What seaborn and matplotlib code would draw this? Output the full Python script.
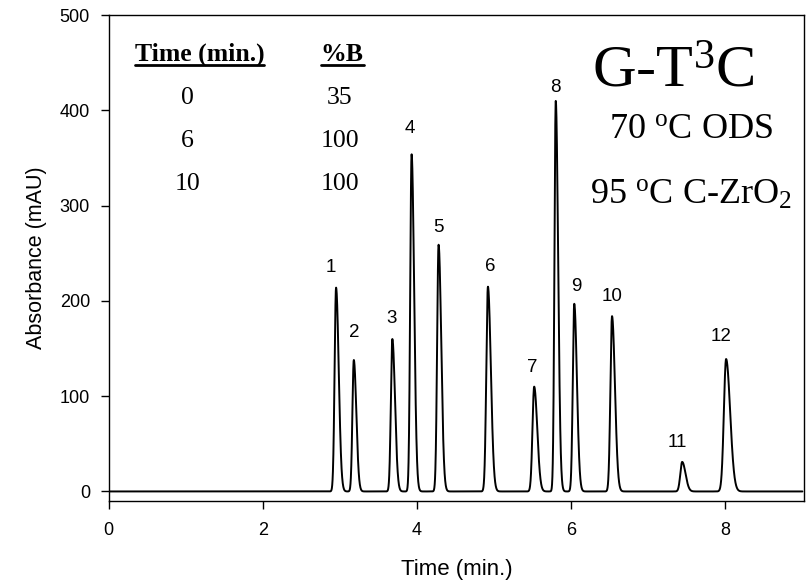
import numpy as np
import pandas as pd
import matplotlib
matplotlib.use("Agg")
import matplotlib.pyplot as plt
import seaborn as sns

# =========================
# 1. 数据（从图中读取的峰）
# =========================
peak_ids = ["1", "2", "3", "4", "5", "6", "7", "8", "9", "10", "11", "12"]
retention = [2.95, 3.18, 3.68, 3.93, 4.28, 4.92, 5.52, 5.80, 6.04, 6.53, 7.44, 8.01]
heights = [214, 138, 160, 354, 259, 215, 110, 410, 197, 184, 31, 139]
sigmas = [0.019, 0.018, 0.019, 0.018, 0.019, 0.021, 0.022, 0.017, 0.019, 0.021, 0.024, 0.029]
label_x = [2.88, 3.18, 3.67, 3.91, 4.28, 4.95, 5.50, 5.80, 6.07, 6.53, 7.38, 7.95]
label_y = [235, 167, 182, 381, 277, 236, 130, 424, 215, 205, 51, 163]

grad_time = ["0", "6", "10"]
grad_b = ["35", "100", "100"]

# =========================
# 2. 色谱图曲线（由峰表生成，带拖尾）
# =========================
t = np.linspace(0, 9, 6000)
signal = np.zeros_like(t)
for rt, h, s in zip(retention, heights, sigmas):
    s_right = s * 1.8
    left = h * np.exp(-0.5 * ((t - rt) / s) ** 2)
    right = h * np.exp(-0.5 * ((t - rt) / s_right) ** 2)
    signal += np.where(t < rt, left, right)
df = pd.DataFrame({"Time": t, "Absorbance": signal})

# =========================
# 3. 样式
# =========================
sns.set_theme(style="ticks")
plt.rcParams["font.family"] = ["Liberation Sans", "DejaVu Sans"]
plt.rcParams["text.color"] = "black"
plt.rcParams["axes.labelcolor"] = "black"
plt.rcParams["xtick.color"] = "black"
plt.rcParams["ytick.color"] = "black"
plt.rcParams["mathtext.fontset"] = "custom"
plt.rcParams["mathtext.rm"] = "Liberation Serif"
plt.rcParams["mathtext.it"] = "Liberation Serif:italic"
plt.rcParams["mathtext.bf"] = "Liberation Serif:bold"

fig = plt.figure(figsize=(8.08, 5.83), dpi=100)
ax = fig.add_axes([0.1345, 0.1407, 0.8605, 0.8333])

sns.lineplot(data=df, x="Time", y="Absorbance", color="black", linewidth=1.4, ax=ax, estimator=None)

ax.set_xlim(0, 9.02)
ax.set_ylim(-10, 500)
ax.set_xticks([0, 2, 4, 6, 8])
ax.set_yticks([0, 100, 200, 300, 400, 500])
ax.tick_params(direction="out", length=5.5, width=1, labelsize=13)
ax.tick_params(axis="x", pad=10)
ax.tick_params(axis="y", pad=8)
for sp in ax.spines.values():
    sp.set_visible(True)
    sp.set_color("black")
    sp.set_linewidth(1)
ax.set_xlabel("Time (min.)", fontsize=16, labelpad=14)
ax.set_ylabel("Absorbance (mAU)", fontsize=15.5, labelpad=9)

# 峰编号
for pid, lx, ly in zip(peak_ids, label_x, label_y):
    ax.text(lx, ly, pid, fontsize=13.5, ha="center", va="center")

# 梯度表
serif = "Liberation Serif"
h1 = ax.text(1.18, 452, "Time (min.)", fontsize=18.5, fontweight="bold", family=serif,
             ha="center", va="baseline")
h2 = ax.text(3.03, 452, "%B", fontsize=18.5, fontweight="bold", family=serif,
             ha="center", va="baseline")
for i, (tt, bb) in enumerate(zip(grad_time, grad_b)):
    yy = 407 - i * 45.5
    ax.text(1.02, yy, tt, fontsize=18.5, family=serif, ha="center", va="baseline")
    ax.text(3.0, yy, bb, fontsize=18.5, family=serif, ha="center", va="baseline")

# 标题文字
ax.text(7.32, 425, r"G-T$^{3}$C", fontsize=43.5, family=serif, ha="center", va="baseline")
ax.text(7.55, 371, r"70 $^{\rm o}$C ODS", fontsize=26, family=serif, ha="center", va="baseline")
ax.text(7.56, 302, r"95 $^{\rm o}$C C-ZrO$_{2}$", fontsize=26, family=serif, ha="center", va="baseline")

# 表头下划线
fig.canvas.draw()
renderer = fig.canvas.get_renderer()
inv = ax.transData.inverted()
for txt in (h1, h2):
    bb = txt.get_window_extent(renderer)
    (x0, _), (x1, _) = inv.transform([(bb.x0, bb.y0), (bb.x1, bb.y0)])
    ax.plot([x0, x1], [448, 448], color="black", linewidth=2, clip_on=False)

fig.savefig("out.png", dpi=100)
